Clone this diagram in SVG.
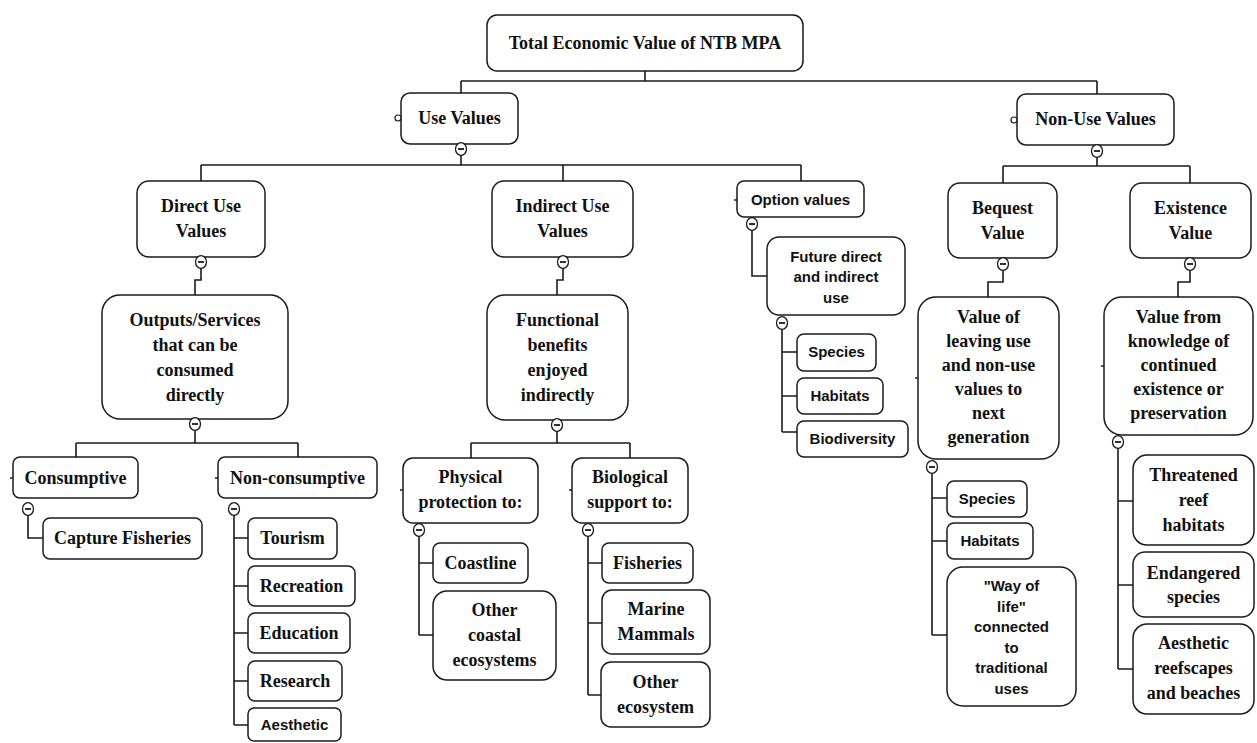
<svg xmlns="http://www.w3.org/2000/svg" xmlns:xlink="http://www.w3.org/1999/xlink" width="1257" height="743" viewBox="0 0 1257 743">
<style>
.box{fill:#fff;stroke:#1a1a1a;stroke-width:1.5}
.t{font-family:"Liberation Serif","Times New Roman",serif;font-weight:bold;font-size:18px;text-anchor:middle;fill:#111}
.s{font-family:"Liberation Sans",Arial,sans-serif;font-weight:bold;font-size:15px;text-anchor:middle;fill:#111}
.c{fill:none;stroke:#1a1a1a;stroke-width:1.6}
.tick{stroke:#1a1a1a;stroke-width:1.5}
.oc{fill:#fff;stroke:#1a1a1a;stroke-width:1.2}
</style>
<defs>
<g id="minus"><ellipse cx="0" cy="0" rx="5.5" ry="6.3" fill="#fff" stroke="#1a1a1a" stroke-width="1.3"/><line x1="-3" y1="0" x2="3" y2="0" stroke="#1a1a1a" stroke-width="1.8"/></g>
</defs>
<rect width="1257" height="743" fill="#fff"/>

<g id="connectors">
<path class="c" d="M645,71V81M461,81H1097M461,81V93M1097,81V94"/>
<path class="c" d="M461,155V165M201,165H801M201,165V181M563,165V181M801,165V181"/>
<path class="c" d="M1097,157V166M1003,166H1190M1003,166V183M1190,166V183"/>
<path class="c" d="M201,268V280H195V295"/>
<path class="c" d="M195,430V443M76,443H298M76,443V457M298,443V457"/>
<path class="c" d="M28,515V538H43"/>
<path class="c" d="M234,515V725M234,538H248M234,586H248M234,633H248M234,681H248M234,725H248"/>
<path class="c" d="M563,268V280H557V295"/>
<path class="c" d="M557,431V443M471,443H630M471,443V458M630,443V458"/>
<path class="c" d="M419,536V635M419,563H433M419,635H433"/>
<path class="c" d="M588,536V695M588,563H602M588,623H602M588,695H602"/>
<path class="c" d="M752,230V276H767"/>
<path class="c" d="M782,329V432M782,352H797M782,396H797M782,432H797"/>
<path class="c" d="M1003,270V282H988V297"/>
<path class="c" d="M1190,270V282H1178V297"/>
<path class="c" d="M932,473V635M932,498H947M932,541H947M932,635H947"/>
<path class="c" d="M1118,448V669M1118,501H1133M1118,585H1133M1118,669H1133"/>
</g>

<g id="n-total"><rect class="box" x="487" y="15" width="316" height="56" rx="10"/><text class="t" x="645" y="49">Total Economic Value of NTB MPA</text></g>

<g id="n-use"><rect class="box" x="401" y="93" width="117" height="51" rx="9"/><circle class="oc" cx="398" cy="118" r="3"/><text class="t" x="459.5" y="124">Use Values</text><use xlink:href="#minus" x="461" y="149"/></g>

<g id="n-nonuse"><rect class="box" x="1017" y="94" width="157" height="51" rx="9"/><circle class="oc" cx="1014" cy="120" r="3"/><text class="t" x="1095.5" y="125">Non-Use Values</text><use xlink:href="#minus" x="1097" y="151"/></g>

<g id="n-direct"><rect class="box" x="137" y="181" width="128" height="76" rx="12"/><text class="t" x="201" y="212">Direct Use</text><text class="t" x="201" y="237">Values</text><use xlink:href="#minus" x="201" y="262"/></g>

<g id="n-outputs"><rect class="box" x="102" y="295" width="186" height="124" rx="18"/><text class="t" x="195" y="326">Outputs/Services</text><text class="t" x="195" y="351">that can be</text><text class="t" x="195" y="376">consumed</text><text class="t" x="195" y="401">directly</text><use xlink:href="#minus" x="195" y="424"/></g>

<g id="n-consumptive"><rect class="box" x="13" y="457" width="125" height="41" rx="7"/><line class="tick" x1="10" y1="478" x2="13" y2="478"/><text class="t" x="75.5" y="484">Consumptive</text><use xlink:href="#minus" x="28" y="509"/></g>

<g id="n-capture"><rect class="box" x="43" y="518" width="159" height="41" rx="7"/><text class="t" x="122.5" y="544">Capture Fisheries</text></g>

<g id="n-nonconsumptive"><rect class="box" x="218" y="457" width="159" height="41" rx="7"/><line class="tick" x1="215" y1="478" x2="218" y2="478"/><text class="t" x="297.5" y="484">Non-consumptive</text><use xlink:href="#minus" x="234" y="509"/></g>

<g id="n-tourism"><rect class="box" x="248" y="518" width="89" height="41" rx="7"/><text class="t" x="292.5" y="544">Tourism</text></g>
<g id="n-recreation"><rect class="box" x="248" y="566" width="107" height="40" rx="7"/><text class="t" x="301.5" y="592">Recreation</text></g>
<g id="n-education"><rect class="box" x="248" y="613" width="102" height="40" rx="7"/><text class="t" x="299" y="639">Education</text></g>
<g id="n-research"><rect class="box" x="248" y="661" width="94" height="40" rx="7"/><text class="t" x="295" y="687">Research</text></g>
<g id="n-aesthetic"><rect class="box" x="248" y="708" width="93" height="33" rx="6"/><text class="s" x="294.5" y="730">Aesthetic</text></g>

<g id="n-indirect"><rect class="box" x="492" y="181" width="141" height="76" rx="12"/><text class="t" x="562.5" y="212">Indirect Use</text><text class="t" x="562.5" y="237">Values</text><use xlink:href="#minus" x="563" y="262"/></g>

<g id="n-functional"><rect class="box" x="487" y="295" width="141" height="125" rx="18"/><text class="t" x="557.5" y="326">Functional</text><text class="t" x="557.5" y="351">benefits</text><text class="t" x="557.5" y="376">enjoyed</text><text class="t" x="557.5" y="401">indirectly</text><use xlink:href="#minus" x="557" y="425"/></g>

<g id="n-physical"><rect class="box" x="403" y="458" width="135" height="65" rx="10"/><line class="tick" x1="400" y1="490" x2="403" y2="490"/><text class="t" x="470.5" y="483">Physical</text><text class="t" x="470.5" y="508">protection to:</text><use xlink:href="#minus" x="419" y="530"/></g>

<g id="n-coastline"><rect class="box" x="433" y="543" width="95" height="40" rx="7"/><text class="t" x="480.5" y="569">Coastline</text></g>
<g id="n-othercoastal"><rect class="box" x="433" y="591" width="123" height="89" rx="14"/><text class="t" x="494.5" y="616">Other</text><text class="t" x="494.5" y="641">coastal</text><text class="t" x="494.5" y="666">ecosystems</text></g>

<g id="n-biological"><rect class="box" x="572" y="458" width="116" height="65" rx="10"/><line class="tick" x1="569" y1="490" x2="572" y2="490"/><text class="t" x="630" y="483">Biological</text><text class="t" x="630" y="508">support to:</text><use xlink:href="#minus" x="588" y="530"/></g>

<g id="n-fisheries"><rect class="box" x="602" y="543" width="91" height="40" rx="7"/><text class="t" x="647.5" y="569">Fisheries</text></g>
<g id="n-marine"><rect class="box" x="602" y="590" width="108" height="64" rx="10"/><text class="t" x="656" y="615">Marine</text><text class="t" x="656" y="640">Mammals</text></g>
<g id="n-otherecosystem"><rect class="box" x="601" y="662" width="109" height="65" rx="10"/><text class="t" x="655.5" y="688">Other</text><text class="t" x="655.5" y="713">ecosystem</text></g>

<g id="n-option"><rect class="box" x="737" y="181" width="127" height="36" rx="7"/><line class="tick" x1="734" y1="200" x2="737" y2="200"/><text class="s" x="800.5" y="205">Option values</text><use xlink:href="#minus" x="752" y="224"/></g>

<g id="n-future"><rect class="box" x="767" y="237" width="138" height="78" rx="12"/><text class="s" x="836" y="262">Future direct</text><text class="s" x="836" y="282">and indirect</text><text class="s" x="836" y="303">use</text><use xlink:href="#minus" x="782" y="323"/></g>

<g id="n-species1"><rect class="box" x="797" y="334" width="79" height="37" rx="7"/><text class="s" x="836.5" y="357">Species</text></g>
<g id="n-habitats1"><rect class="box" x="797" y="378" width="86" height="36" rx="7"/><text class="s" x="840" y="401">Habitats</text></g>
<g id="n-biodiversity"><rect class="box" x="797" y="421" width="111" height="36" rx="7"/><text class="s" x="852.5" y="444">Biodiversity</text></g>

<g id="n-bequest"><rect class="box" x="948" y="183" width="109" height="75" rx="12"/><text class="t" x="1002.5" y="214">Bequest</text><text class="t" x="1002.5" y="239">Value</text><use xlink:href="#minus" x="1003" y="264"/></g>

<g id="n-leaving"><rect class="box" x="918" y="297" width="141" height="162" rx="18"/><line class="tick" x1="915" y1="378" x2="918" y2="378"/><text class="t" x="988.5" y="323">Value of</text><text class="t" x="988.5" y="347">leaving use</text><text class="t" x="988.5" y="371">and non-use</text><text class="t" x="988.5" y="395">values to</text><text class="t" x="988.5" y="419">next</text><text class="t" x="988.5" y="443">generation</text><use xlink:href="#minus" x="932" y="467"/></g>

<g id="n-species2"><rect class="box" x="947" y="481" width="80" height="36" rx="7"/><text class="s" x="987" y="504">Species</text></g>
<g id="n-habitats2"><rect class="box" x="947" y="523" width="86" height="36" rx="7"/><text class="s" x="990" y="546">Habitats</text></g>
<g id="n-wayoflife"><rect class="box" x="947" y="567" width="129" height="139" rx="16"/><text class="s" x="1011.5" y="591">"Way of</text><text class="s" x="1011.5" y="612">life"</text><text class="s" x="1011.5" y="632">connected</text><text class="s" x="1011.5" y="653">to</text><text class="s" x="1011.5" y="673">traditional</text><text class="s" x="1011.5" y="694">uses</text></g>

<g id="n-existence"><rect class="box" x="1130" y="183" width="121" height="75" rx="12"/><text class="t" x="1190.5" y="214">Existence</text><text class="t" x="1190.5" y="239">Value</text><use xlink:href="#minus" x="1190" y="264"/></g>

<g id="n-knowledge"><rect class="box" x="1104" y="297" width="149" height="138" rx="18"/><line class="tick" x1="1101" y1="366" x2="1104" y2="366"/><text class="t" x="1178.5" y="323">Value from</text><text class="t" x="1178.5" y="347">knowledge of</text><text class="t" x="1178.5" y="371">continued</text><text class="t" x="1178.5" y="395">existence or</text><text class="t" x="1178.5" y="419">preservation</text><use xlink:href="#minus" x="1118" y="442"/></g>

<g id="n-threatened"><rect class="box" x="1133" y="455" width="121" height="90" rx="14"/><text class="t" x="1193.5" y="481">Threatened</text><text class="t" x="1193.5" y="506">reef</text><text class="t" x="1193.5" y="531">habitats</text></g>
<g id="n-endangered"><rect class="box" x="1133" y="552" width="121" height="65" rx="12"/><text class="t" x="1193.5" y="579">Endangered</text><text class="t" x="1193.5" y="603">species</text></g>
<g id="n-reefscapes"><rect class="box" x="1133" y="624" width="121" height="90" rx="14"/><text class="t" x="1193.5" y="649">Aesthetic</text><text class="t" x="1193.5" y="674">reefscapes</text><text class="t" x="1193.5" y="699">and beaches</text></g>
</svg>
